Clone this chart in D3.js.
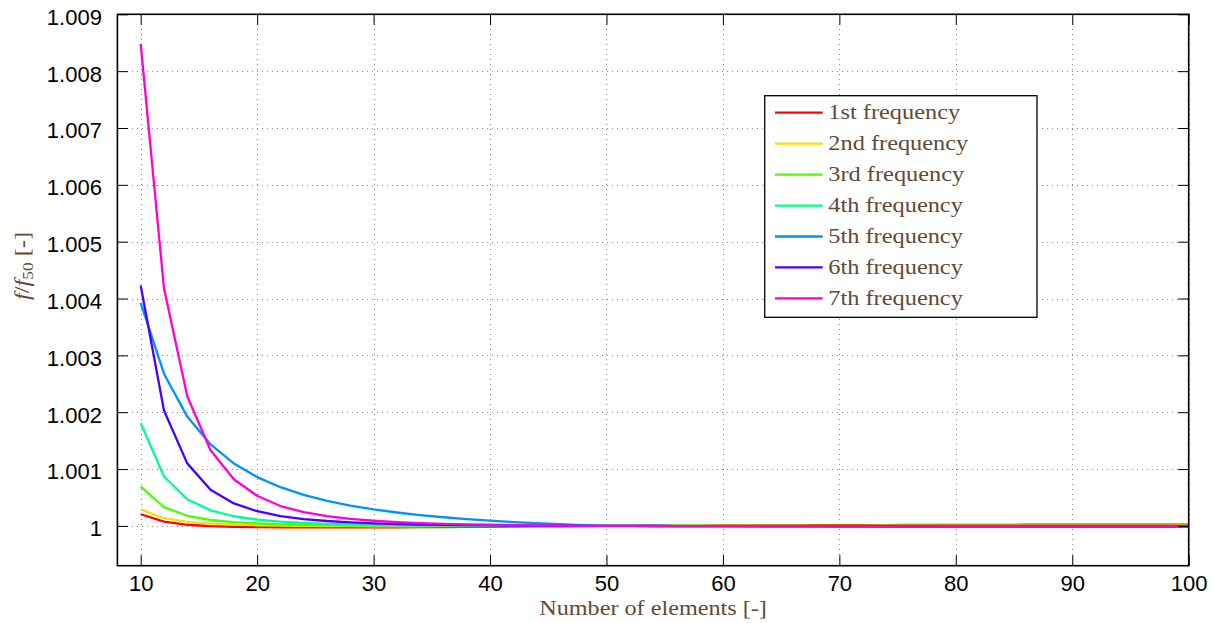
<!DOCTYPE html>
<html>
<head>
<meta charset="utf-8">
<script src="https://cdn.jsdelivr.net/npm/d3@7"></script>
<style>
  body { margin: 0; background: #fff; }
  svg { display: block; }
</style>
</head>
<body>
<svg id="chart" width="1219" height="623"></svg>
<script>
// Mesh sizes (number of elements) and normalised natural frequencies f/f50
const elements = [10,12,14,16,18,20,22,24,26,28,30,32,34,36,38,40,42,44,46,48,50,
  52,54,56,58,60,62,64,66,68,70,72,74,76,78,80,82,84,86,88,90,92,94,96,98,100];

const freq1 = [1.000205,1.000076,1.00002,0.999995,0.999985,0.99998,0.999976,0.999974,0.999973,0.999973,
  0.999974,0.999975,0.999977,0.999979,0.999982,0.999985,0.999988,0.999991,0.999994,0.999997,1.0,
  1.000002,1.000003,1.000005,1.000006,1.000008,1.000009,1.00001,1.000011,1.000012,1.000013,1.000014,
  1.000015,1.000016,1.000017,1.000018,1.000018,1.000019,1.00002,1.00002,1.000021,1.000021,1.000022,
  1.000022,1.000023,1.000023];
const freq2 = [1.00029,1.000135,1.00007,1.00004,1.000022,1.000012,1.000005,1.0,0.999997,0.999995,
  0.999994,0.999994,0.999994,0.999995,0.999996,0.999997,0.999998,0.999998,0.999999,1.0,1.0,
  1.0,1.0,1.000001,1.000001,1.000001,1.000001,1.000002,1.000002,1.000002,1.000002,1.000002,
  1.000003,1.000003,1.000003,1.000003,1.000003,1.000004,1.000004,1.000004,1.000004,1.000004,1.000004,
  1.000005,1.000005,1.000005];
const freq3 = [1.00069,1.00033,1.000178,1.000104,1.000065,1.000042,1.000028,1.00002,1.000014,1.00001,
  1.000007,1.000006,1.000004,1.000003,1.000002,1.000002,1.000001,1.000001,1.0,1.0,1.0,
  1.0,1.0,0.999999,0.999999,0.999999,0.999999,0.999999,0.999999,0.999998,0.999998,0.999998,
  0.999998,0.999998,0.999998,0.999998,0.999998,0.999998,0.999998,0.999998,0.999998,0.999998,0.999998,
  0.999998,0.999998,0.999998];
const freq4 = [1.00181,1.00087,1.000468,1.000273,1.00017,1.00011,1.000074,1.000052,1.000037,1.000027,
  1.000019,1.000014,1.000011,1.000008,1.000006,1.000004,1.000003,1.000002,1.000001,1.0000005,1.0,
  0.999999,0.999999,0.999998,0.999998,0.999997,0.999997,0.999996,0.999996,0.999996,0.999995,0.999995,
  0.999995,0.999995,0.999994,0.999994,0.999994,0.999994,0.999994,0.999993,0.999993,0.999993,0.999993,
  0.999993,0.999993,0.999993];
const freq5 = [1.003925,1.002677,1.001923,1.001434,1.001099,1.000859,1.000681,1.000546,1.000441,1.000358,
  1.000291,1.000236,1.00019,1.000152,1.000119,1.000092,1.000068,1.000048,1.00003,1.000014,1.0,
  0.999999,0.999998,0.999997,0.999996,0.999995,0.999994,0.999994,0.999993,0.999992,0.999992,0.999991,
  0.999991,0.99999,0.99999,0.99999,0.999989,0.999989,0.999989,0.999988,0.999988,0.999988,0.999988,
  0.999987,0.999987,0.999987];
const freq6 = [1.00423,1.00203,1.0011,1.000638,1.000396,1.000258,1.000174,1.000121,1.000086,1.000062,
  1.000045,1.000034,1.000025,1.000018,1.000014,1.00001,1.000007,1.000005,1.000003,1.000001,1.0,
  0.999999,0.999998,0.999997,0.999997,0.999996,0.999996,0.999995,0.999995,0.999995,0.999994,0.999994,
  0.999994,0.999994,0.999994,0.999993,0.999993,0.999993,0.999993,0.999993,0.999993,0.999993,0.999993,
  0.999993,0.999993,0.999993];
const freq7 = [1.00848,1.00418,1.00228,1.00133,1.00082,1.00053,1.000349,1.000242,1.000172,1.000125,
  1.000091,1.000067,1.00005,1.000037,1.000027,1.00002,1.000014,1.000009,1.000005,1.000002,1.0,
  0.999999,0.999998,0.999997,0.999996,0.999995,0.999995,0.999994,0.999994,0.999993,0.999993,0.999993,
  0.999992,0.999992,0.999992,0.999992,0.999992,0.999992,0.999991,0.999991,0.999991,0.999991,0.999991,
  0.999991,0.999991,0.999991];

const seriesNames = ["1st frequency","2nd frequency","3rd frequency","4th frequency",
  "5th frequency","6th frequency","7th frequency"];

const xTicks = [10,20,30,40,50,60,70,80,90,100];
const xTickLabels = ["10","20","30","40","50","60","70","80","90","100"];
const yTicks = [1,1.001,1.002,1.003,1.004,1.005,1.006,1.007,1.008,1.009];
const yTickLabels = ["1","1.001","1.002","1.003","1.004","1.005","1.006","1.007","1.008","1.009"];

// ---- styling and layout ----
const lineColors = ["#ff0000","#ffdb00","#49ff00","#00ff92","#0092ff","#4900ff","#ff00db"];
const series = [freq1,freq2,freq3,freq4,freq5,freq6,freq7];

const plot = { left: 117.4, right: 1188.7, top: 14.3, bottom: 565.7 };
const sansFont = "'Liberation Sans', Arial, Helvetica, sans-serif";
const serifFont = "'Liberation Serif', 'Times New Roman', serif";
const serifStretch = 1.16;
const textBrown = "#5f4a36";

const svg = d3.select("#chart");

const x = d3.scaleLinear().domain([8, 100]).range([plot.left, plot.right]);
const y = d3.scaleLinear().domain([0.9993, 1.009]).range([plot.bottom, plot.top]);

// dotted grid
const grid = svg.append("g").attr("class", "grid")
  .attr("stroke", "#8a8a8a").attr("stroke-width", 1).attr("stroke-dasharray", "1,4")
  .attr("shape-rendering", "crispEdges");
grid.selectAll("line.gx").data(xTicks).join("line").attr("class", "gx")
  .attr("x1", d => Math.round(x(d)) + 0.5).attr("x2", d => Math.round(x(d)) + 0.5)
  .attr("y1", plot.top).attr("y2", plot.bottom);
grid.selectAll("line.gy").data(yTicks).join("line").attr("class", "gy")
  .attr("y1", d => Math.round(y(d)) + 0.5).attr("y2", d => Math.round(y(d)) + 0.5)
  .attr("x1", plot.left).attr("x2", plot.right);

// clip for the data lines
svg.append("defs").append("clipPath").attr("id", "plotClip")
  .append("rect").attr("x", plot.left).attr("y", plot.top)
  .attr("width", plot.right - plot.left).attr("height", plot.bottom - plot.top);

const line = d3.line().x((d, i) => x(elements[i])).y(d => y(d));
svg.append("g").attr("clip-path", "url(#plotClip)")
  .selectAll("path").data(series).join("path")
  .attr("d", d => line(d))
  .attr("fill", "none")
  .attr("stroke", (d, i) => lineColors[i])
  .attr("stroke-width", 2.3)
  .attr("stroke-linejoin", "round");

// axes with inward ticks on all four sides
const tickLen = 10.5;
const axisBottom = d3.axisBottom(x).tickValues(xTicks).tickFormat((d, i) => xTickLabels[i])
  .tickSizeInner(-tickLen).tickSizeOuter(0);
const axisTop = d3.axisTop(x).tickValues(xTicks).tickFormat("").tickSizeInner(-tickLen).tickSizeOuter(0);
const axisLeft = d3.axisLeft(y).tickValues(yTicks).tickFormat((d, i) => yTickLabels[i])
  .tickSizeInner(-tickLen).tickSizeOuter(0).tickPadding(tickLen + 5);
const axisRight = d3.axisRight(y).tickValues(yTicks).tickFormat("").tickSizeInner(-tickLen).tickSizeOuter(0);

function styleAxis(g) {
  g.select(".domain").remove();
  g.selectAll(".tick line").attr("stroke", "#000").attr("stroke-width", 1);
  g.selectAll(".tick text").attr("fill", "#000")
    .style("font-family", sansFont).style("font-size", "22px");
}
const gb = svg.append("g").attr("transform", `translate(0,${plot.bottom})`).call(axisBottom).call(styleAxis);
gb.selectAll(".tick text").attr("dy", null).attr("y", 25.5);
svg.append("g").attr("transform", `translate(0,${plot.top})`).call(axisTop).call(styleAxis);
const gl = svg.append("g").attr("transform", `translate(${plot.left},0)`).call(axisLeft).call(styleAxis);
gl.selectAll(".tick text").attr("dy", "0.45em");
svg.append("g").attr("transform", `translate(${plot.right},0)`).call(axisRight).call(styleAxis);

// frame
svg.append("rect")
  .attr("x", plot.left).attr("y", plot.top)
  .attr("width", plot.right - plot.left).attr("height", plot.bottom - plot.top)
  .attr("fill", "none").attr("stroke", "#000").attr("stroke-width", 1.6);

// axis titles
svg.append("text")
  .attr("transform", `translate(${(plot.left + plot.right) / 2},614.5) scale(1.21,1)`)
  .attr("text-anchor", "middle")
  .style("font-family", serifFont).style("font-size", "20px").attr("fill", textBrown)
  .text("Number of elements [-]");

const yTitle = svg.append("text")
  .attr("transform", `translate(29,266) rotate(-90) scale(${serifStretch},1)`)
  .attr("text-anchor", "middle")
  .style("font-family", serifFont).style("font-size", "21px").attr("fill", textBrown);
yTitle.append("tspan").attr("font-style", "italic").text("f");
yTitle.append("tspan").text("/");
yTitle.append("tspan").attr("font-style", "italic").text("f");
yTitle.append("tspan").attr("dy", 4).style("font-size", "15px").text("50");
yTitle.append("tspan").attr("dy", -4).text("\u00a0[-]");

// legend
const legend = svg.append("g").attr("class", "legend");
legend.append("rect")
  .attr("x", 764.7).attr("y", 95.7).attr("width", 272.3).attr("height", 221.6)
  .attr("fill", "#fff").attr("stroke", "#000").attr("stroke-width", 1.3);
const rows = legend.selectAll("g.row").data(seriesNames).join("g").attr("class", "row")
  .attr("transform", (d, i) => `translate(0,${112.7 + i * 30.95})`);
rows.append("line").attr("x1", 775).attr("x2", 822.7).attr("y1", 0).attr("y2", 0)
  .attr("stroke", (d, i) => lineColors[i]).attr("stroke-width", 2.3);
rows.append("text")
  .attr("transform", `translate(828.3,6.7) scale(${serifStretch},1)`)
  .style("font-family", serifFont).style("font-size", "21px").attr("fill", textBrown)
  .text(d => d);
</script>
</body>
</html>
